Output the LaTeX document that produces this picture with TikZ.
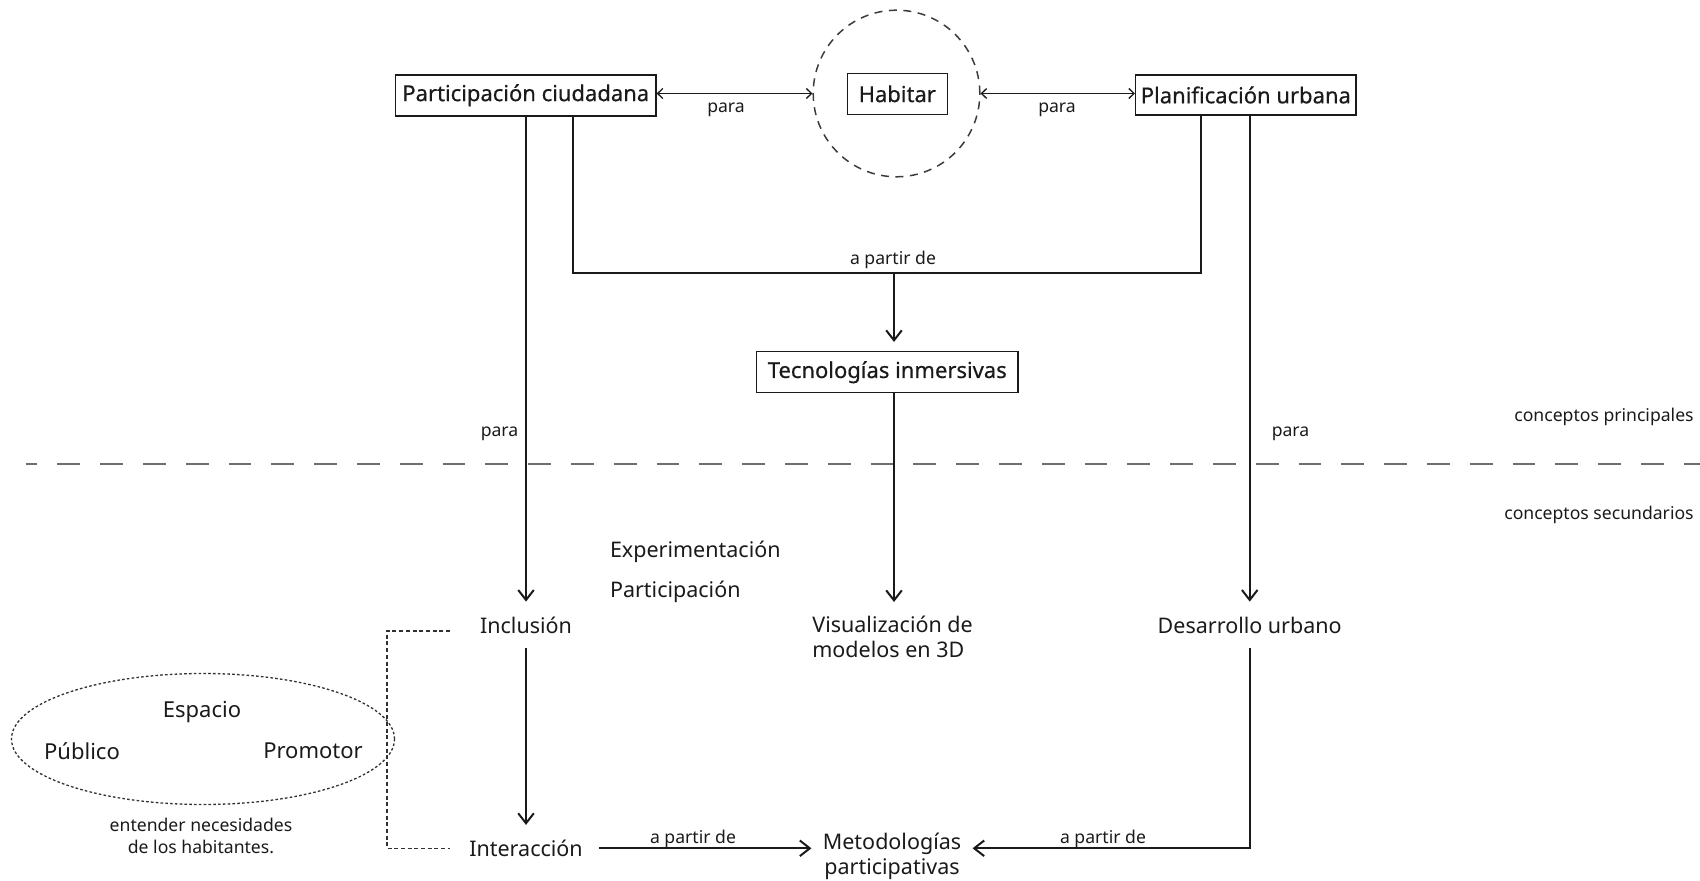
\documentclass[tikz,border=0pt]{standalone}
\usepackage{fontspec}
\setmainfont{Noto Sans}
\newfontfamily\boxfont[FakeBold=0.5]{Noto Sans}
\usetikzlibrary{arrows.meta,calc,shapes.geometric}
\definecolor{ink}{HTML}{1A1A1A}
\definecolor{sepgray}{HTML}{6E6E6E}
\begin{document}
\begin{tikzpicture}[x=0.5pt,y=-0.5pt,
  boxnode/.style={draw=ink, line width=0.75pt, inner sep=0pt, text=ink,
    font=\boxfont\fontsize{11}{13}\selectfont},
  sec/.style={text=ink, font=\fontsize{10.75}{12.5}\selectfont,
    text height=8pt, text depth=0pt, inner xsep=7pt, inner ysep=7.5pt},
  secm/.style={text=ink, font=\fontsize{10.75}{12.5}\selectfont, inner xsep=7pt},
  ell/.style={text=ink, font=\fontsize{11}{13}\selectfont, inner sep=0pt},
  lbl/.style={text=ink, font=\fontsize{8.8}{10.5}\selectfont, inner sep=0pt},
  arr/.style={draw=ink, line width=1pt, -{Straight Barb[length=5pt,width=7.8pt]}},
  plain/.style={draw=ink, line width=1pt},
  darr/.style={draw=ink, line width=0.65pt,
    {Straight Barb[length=2.6pt,width=5pt]}-{Straight Barb[length=2.6pt,width=5pt]}},
  dashcirc/.style={draw=ink!85, line width=0.75pt, dash pattern=on 4pt off 3.25pt},
  sepline/.style={draw=sepgray, line width=1pt, dash pattern=on 11.4pt off 10pt, dash phase=5.55pt},
  brk/.style={draw=ink!90, line width=0.8pt, dash pattern=on 2pt off 1.35pt},
  dotell/.style={draw=ink!90, line width=0.65pt, dash pattern=on 1.3pt off 1.1pt}
]
\useasboundingbox (0,0) rectangle (1700,881);

% top row
\node[boxnode, minimum width=130.15pt, minimum height=20.5pt] (pc) at (525.75,95.3) {Participación ciudadana};
\node[circle, dashcirc, minimum size=83.3pt, inner sep=0pt] (circ) at (896.5,93.5) {};
\node[boxnode, minimum width=50pt, minimum height=20.5pt] (hab) at (897.3,93.8) {Habitar};
\node[boxnode, minimum width=110.15pt, minimum height=20pt] (pu) at (1245.85,95) {Planificación urbana};

\draw[darr] (pc.east |- circ.center) -- (circ.west);
\draw[darr] (circ.east) -- (pu.west |- circ.center);
\node[lbl] (para1) at (726,110) {para};
\node[lbl] (para2) at (1057,110) {para};

% join to Tecnologias
\node[boxnode, minimum width=130.65pt, minimum height=20.5pt] (ti) at (887.25,372.2) {Tecnologías inmersivas};
\coordinate (j) at (894,273);
\draw[plain] ($(pc.south west)!0.68!(pc.south east)$) |- (j) -| ($(pu.south west)!0.2987!(pu.south east)$);
\draw[arr, shorten >=4.5pt] (j) -- (j |- ti.north);
\node[lbl] (apd) at (893,260) {a partir de};

% secondary nodes
\node[sec] (incl) at (526,625) {Inclusión};
\node[secm, align=left, anchor=north, inner ysep=7pt] (vis) at (892.6,602) {Visualización de\\modelos en 3D};
\node[sec] (des) at (1249.7,625) {Desarrollo urbano};
\node[sec, inner xsep=8pt] (inter) at (526,848.3) {Interacción};
\node[secm, align=center, anchor=north, inner ysep=0pt, inner xsep=5.5pt] (met) at (892,833) {Metodologías\\participativas};
\node[sec, anchor=west, inner xsep=0pt] (exp) at (609.6,549.3) {Experimentación};
\node[sec, anchor=west, inner xsep=0pt] (par) at (609.6,589.5) {Participación};

% vertical connectors
\draw[arr] (incl.north |- pc.south) -- (incl.north);
\draw[arr] (j |- ti.south) -- (j |- vis.north);
\draw[arr] (des.north |- pu.south) -- (des.north);
\node[lbl] (para3) at (499.5,434) {para};
\node[lbl] (para4) at (1290.5,434) {para};

\draw[arr] (incl.south) -- (inter.north);
\draw[arr] (inter.east) -- (met.west |- inter.east);
\node[lbl] (apd2) at (693,838.5) {a partir de};
\draw[arr] (des.south) |- (met.east |- inter.east);
\node[lbl] (apd3) at (1103,838.5) {a partir de};

% separator
\coordinate (s1) at (25.7,464);
\coordinate (s2) at (1700,464);
\draw[sepline] (s1) -- (s2);
\node[lbl, anchor=east] (cp) at (1694,416.5) {conceptos principales};
\node[lbl, anchor=east] (cs) at (1694,515) {conceptos secundarios};

% ellipse and bracket
\node[ellipse, dotell, minimum width=191.5pt, minimum height=65.5pt, inner sep=0pt] (elp) at (203,739) {};
\node[ell] (esp) at (202,712) {Espacio};
\node[ell] (pub) at (82,751) {Público};
\node[ell] (pro) at (313,751) {Promotor};
\node[lbl, align=center, font=\fontsize{8.8}{11}\selectfont] (ent) at (201,835.5) {entender necesidades\\de los habitantes.};
\coordinate (b1) at (450,631);
\coordinate (b2) at (450,848.3);
\draw[brk] (b1) -- (386.7,631) |- (b2);
\end{tikzpicture}
\end{document}
